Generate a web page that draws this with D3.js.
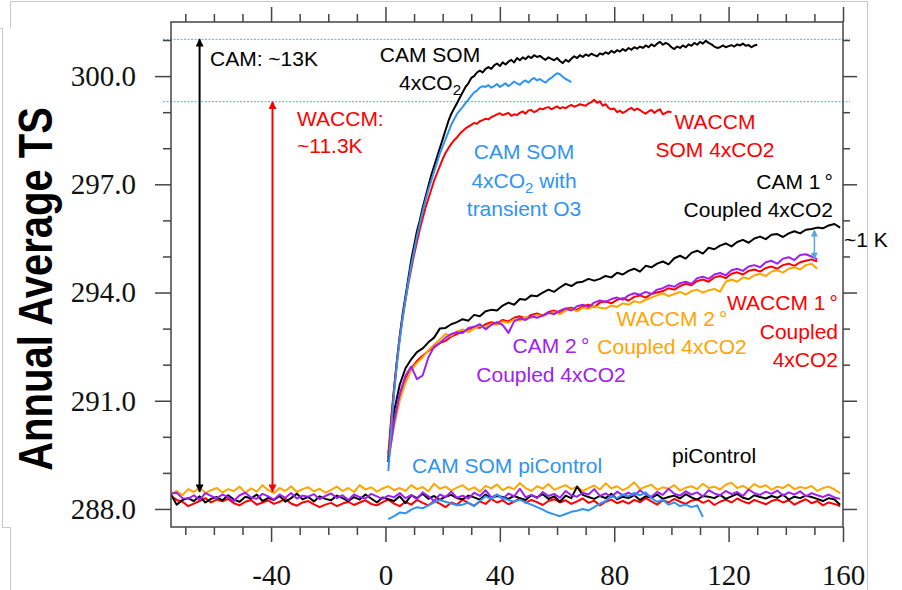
<!DOCTYPE html>
<html>
<head>
<meta charset="utf-8">
<script src="https://cdn.jsdelivr.net/npm/d3@7"></script>
<style>
  html, body { margin: 0; padding: 0; background: #fff; }
  svg { display: block; }
  text { font-family: "Liberation Sans", Arial, sans-serif; }
</style>
</head>
<body>
<svg id="chart" width="902" height="590"></svg>
<script>
// ---- axis ticks ----
const xMajorTicks = [-40, 0, 40, 80, 120, 160];
const xMinorTicks = [-70, -60, -50, -30, -20, -10, 10, 20, 30, 50, 60, 70, 90, 100, 110, 130, 140, 150];
const yMajorTicks = [288, 291, 294, 297, 300];
const yMinorTicks = [289, 290, 292, 293, 295, 296, 298, 299, 301];

// ---- reference levels (K) ----
const camTopLevel = 301.02;
const waccmTopLevel = 299.29;
const controlLevel = 288.48;

// ---- slab-ocean 4xCO2 runs, annual means from year 1 ----
const camSom4x = [
  289.3, 290.4, 291.3, 292.1, 292.8, 293.4, 293.9, 294.4, 294.9, 295.3,
  295.7, 296.0, 296.35, 296.65, 296.95, 297.25, 297.5, 297.75, 298.0, 298.25,
  298.5, 298.75, 298.95, 299.1, 299.25, 299.4, 299.55, 299.7, 299.8, 299.95,
  300.0, 300.1, 300.15, 300.1, 300.2, 300.25, 300.2, 300.3, 300.35, 300.28,
  300.38, 300.32, 300.4, 300.45, 300.38, 300.5, 300.44, 300.52, 300.47, 300.55,
  300.5, 300.58, 300.53, 300.56, 300.5, 300.45, 300.52, 300.48, 300.44, 300.5,
  300.42, 300.36, 300.45, 300.4, 300.48, 300.55, 300.5, 300.58, 300.53, 300.6,
  300.56, 300.62, 300.58, 300.55, 300.63, 300.6, 300.66, 300.62, 300.7, 300.65,
  300.72, 300.68, 300.75, 300.7, 300.78, 300.73, 300.8, 300.76, 300.82, 300.78,
  300.85, 300.8, 300.88, 300.83, 300.9, 300.95, 300.87, 300.92, 300.88, 300.8,
  300.75, 300.82, 300.78, 300.85, 300.8, 300.88, 300.84, 300.92, 300.87, 300.95,
  300.9, 300.98, 300.92, 300.88, 300.82, 300.78, 300.8, 300.85, 300.8, 300.83,
  300.86, 300.82, 300.88, 300.85, 300.9, 300.84, 300.86, 300.8, 300.85, 300.87
];
const camSom4xO3 = [
  289.05, 290.2, 291.2, 292.0, 292.7, 293.3, 293.8, 294.3, 294.75, 295.15,
  295.55, 295.9, 296.25, 296.55, 296.85, 297.1, 297.35, 297.6, 297.85, 298.05,
  298.25, 298.45, 298.65, 298.8, 298.95, 299.05, 299.15, 299.25, 299.35, 299.45,
  299.55, 299.6, 299.68, 299.72, 299.7, 299.75, 299.68, 299.72, 299.78, 299.7,
  299.75, 299.8, 299.72, 299.78, 299.85, 299.8, 299.76, 299.84, 299.88, 299.82,
  299.9, 299.95, 299.88, 299.92, 299.86, 299.82, 299.9, 299.95, 300.02, 300.08,
  300.05, 299.98, 299.92, 299.88, 299.83
];
const waccmSom4x = [
  289.5, 290.5, 291.35, 292.1, 292.75, 293.3, 293.8, 294.25, 294.65, 295.05,
  295.4, 295.75, 296.05, 296.35, 296.6, 296.85, 297.1, 297.3, 297.5, 297.7,
  297.87, 298.0, 298.12, 298.22, 298.3, 298.4, 298.48, 298.55, 298.6, 298.65,
  298.7, 298.68, 298.75, 298.78, 298.82, 298.8, 298.86, 298.9, 298.94, 298.97,
  298.92, 298.95, 298.98, 298.9, 298.94, 298.92, 298.98, 299.02, 298.96, 299.05,
  299.06, 299.0, 299.04, 299.1, 299.08, 299.12, 299.14, 299.08, 299.12, 299.16,
  299.1, 299.14, 299.11, 299.16, 299.2, 299.15, 299.18, 299.22, 299.2, 299.18,
  299.24, 299.28, 299.34, 299.26, 299.3, 299.18, 299.22, 299.12, 299.08, 299.1,
  299.0, 299.04, 298.98, 299.02, 299.08, 299.12, 299.05, 299.1, 299.06, 299.0,
  298.96, 299.02, 299.06, 298.98, 299.04, 299.08, 298.94, 298.98, 299.02, 299.0
];

// ---- fully coupled 4xCO2 runs, every second year from year 1 ----
const cam1Coupled = [
  289.4, 290.7, 291.45, 291.9, 292.15, 292.35, 292.45, 292.62, 292.75, 293.0,
  293.02, 293.12, 293.18, 293.26, 293.22, 293.38, 293.34, 293.48, 293.52, 293.5,
  293.64, 293.72, 293.66, 293.82, 293.8, 293.92, 293.9, 294.0, 294.08, 294.02,
  294.14, 294.24, 294.18, 294.28, 294.3, 294.38, 294.33, 294.38, 294.46, 294.42,
  294.55, 294.5, 294.6, 294.66, 294.58, 294.74, 294.7, 294.8, 294.86, 294.78,
  294.95, 295.02, 294.94, 295.1, 295.16, 295.08, 295.24, 295.2, 295.3, 295.36,
  295.28, 295.4, 295.46, 295.38, 295.5, 295.55, 295.48, 295.6, 295.62, 295.54,
  295.64, 295.7, 295.64, 295.74, 295.76, 295.8, 295.78, 295.86, 295.9, 295.8
];
const cam2Coupled = [
  289.3, 290.4, 291.2, 291.7, 291.95, 291.6, 291.7, 292.2, 292.5, 292.6,
  292.75, 292.85, 292.9, 292.88, 293.02, 293.05, 293.12, 292.98, 293.1, 293.18,
  293.1, 292.88, 293.2, 293.28, 293.24, 293.34, 293.3, 293.36, 293.44, 293.4,
  293.5, 293.56, 293.5, 293.62, 293.66, 293.6, 293.72, 293.78, 293.74, 293.82,
  293.86, 293.8, 293.92, 293.98, 293.94, 294.02, 293.96, 294.08, 294.12, 294.2,
  294.16, 294.26, 294.3, 294.24, 294.4, 294.44, 294.38, 294.5, 294.54, 294.48,
  294.62, 294.66, 294.6, 294.72, 294.76, 294.7, 294.84, 294.88, 294.8, 294.94,
  294.98, 294.9, 295.04, 295.06, 295.0, 294.92
];
const waccm1Coupled = [
  289.55, 290.45, 291.15, 291.6, 291.9, 292.1, 292.25, 292.38, 292.48, 292.6,
  292.66, 292.78, 292.85, 292.92, 292.98, 293.05, 293.02, 293.12, 293.18, 293.14,
  293.24, 293.2, 293.3, 293.34, 293.28, 293.38, 293.42, 293.36, 293.46, 293.5,
  293.44, 293.55, 293.58, 293.52, 293.62, 293.66, 293.6, 293.72, 293.76, 293.7,
  293.8, 293.84, 293.78, 293.88, 293.92, 293.86, 293.96, 294.0, 294.04, 294.12,
  294.08, 294.18, 294.24, 294.2, 294.32, 294.36, 294.3, 294.42, 294.46, 294.4,
  294.52, 294.56, 294.5, 294.6, 294.64, 294.58, 294.68, 294.72, 294.66, 294.76,
  294.8, 294.74, 294.84, 294.88, 294.92, 294.86
];
const waccm2Coupled = [
  289.4, 290.3, 291.0, 291.5, 291.85, 292.05, 292.2, 292.4, 292.55, 292.7,
  292.85, 292.8, 292.92, 292.98, 292.9, 293.0, 293.08, 293.02, 293.14, 293.1,
  293.2, 293.16, 293.26, 293.22, 293.32, 293.3, 293.38, 293.34, 293.42, 293.46,
  293.4, 293.5, 293.54, 293.48, 293.58, 293.55, 293.62, 293.58, 293.56, 293.64,
  293.6, 293.7, 293.66, 293.76, 293.72, 293.8, 293.86, 293.92, 293.98, 293.9,
  293.96, 294.02, 293.94, 294.04, 294.08, 294.0, 294.06, 294.1, 294.02, 294.3,
  294.36, 294.3, 294.42, 294.38, 294.48, 294.52, 294.46, 294.58, 294.62, 294.55,
  294.66, 294.7, 294.64, 294.76, 294.8, 294.66
];

// ---- pre-industrial control runs, every second year from year -75 ----
const waccm2Control = [
  288.42, 288.50, 288.38, 288.55, 288.47, 288.60, 288.44, 288.52, 288.58, 288.46,
  288.55, 288.50, 288.62, 288.45, 288.57, 288.48, 288.66, 288.52, 288.44, 288.58,
  288.50, 288.63, 288.47, 288.55, 288.60, 288.49, 288.56, 288.45, 288.53, 288.62,
  288.50, 288.58, 288.47, 288.66, 288.54, 288.60, 288.48, 288.57, 288.63, 288.52,
  288.58, 288.50, 288.66, 288.55, 288.61, 288.49, 288.70, 288.56, 288.62, 288.51,
  288.59, 288.66, 288.53, 288.60, 288.48, 288.64, 288.57, 288.68, 288.52, 288.61,
  288.55, 288.72, 288.58, 288.50, 288.63, 288.56, 288.69, 288.53, 288.60, 288.66,
  288.55, 288.62, 288.50, 288.58, 288.65, 288.54, 288.71, 288.57, 288.63, 288.52,
  288.60, 288.74, 288.55, 288.62, 288.67, 288.53, 288.60, 288.56, 288.66, 288.51,
  288.59, 288.63, 288.55, 288.70, 288.58, 288.62, 288.54, 288.67, 288.73, 288.58,
  288.64, 288.55, 288.69, 288.60, 288.66, 288.53, 288.62, 288.58, 288.68, 288.55,
  288.61, 288.57, 288.64, 288.50, 288.58, 288.62, 288.54, 288.44
];
const waccm1Control = [
  288.36, 288.25, 288.20, 288.08, 288.15, 288.22, 288.30, 288.18, 288.26, 288.21,
  288.28, 288.16, 288.10, 288.20, 288.25, 288.12, 288.18, 288.24, 288.14, 288.20,
  288.28, 288.15, 288.09, 288.18, 288.22, 288.13, 288.05, 288.12, 288.17, 288.08,
  288.15, 288.20, 288.11, 288.18, 288.24, 288.14, 288.10, 288.19, 288.26, 288.15,
  288.08, 288.20, 288.12, 288.25, 288.17, 288.10, 288.22, 288.15, 288.05, 288.18,
  288.12, 288.26, 288.16, 288.09, 288.21, 288.14, 288.28, 288.18, 288.24, 288.13,
  288.20, 288.30, 288.17, 288.25, 288.19, 288.11, 288.22, 288.27, 288.18, 288.24,
  288.14, 288.21, 288.29, 288.17, 288.23, 288.10, 288.20, 288.26, 288.16, 288.22,
  288.15, 288.25, 288.19, 288.30, 288.21, 288.12, 288.24, 288.18, 288.28, 288.20,
  288.14, 288.23, 288.27, 288.17, 288.24, 288.11, 288.20, 288.26, 288.18, 288.29,
  288.21, 288.15, 288.25, 288.19, 288.13, 288.22, 288.26, 288.18, 288.24, 288.12,
  288.20, 288.27, 288.16, 288.22, 288.10, 288.18, 288.14, 288.08
];
const cam1Control = [
  288.40, 288.12, 288.25, 288.30, 288.22, 288.35, 288.18, 288.28, 288.33, 288.24,
  288.38, 288.26, 288.20, 288.34, 288.29, 288.40, 288.22, 288.31, 288.25, 288.36,
  288.20, 288.30, 288.42, 288.27, 288.33, 288.21, 288.35, 288.28, 288.24, 288.37,
  288.30, 288.22, 288.33, 288.26, 288.40, 288.29, 288.18, 288.32, 288.27, 288.22,
  288.35, 288.16, 288.38, 288.30, 288.42, 288.28, 288.36, 288.25, 288.34, 288.39,
  288.30, 288.27, 288.37, 288.32, 288.26, 288.40, 288.31, 288.36, 288.33, 288.28,
  288.36, 288.30, 288.25, 288.38, 288.32, 288.41, 288.28, 288.35, 288.20, 288.37,
  288.30, 288.62, 288.39, 288.33, 288.28, 288.36, 288.30, 288.42, 288.27, 288.34,
  288.30, 288.38, 288.25, 288.35, 288.31, 288.40, 288.28, 288.33, 288.37, 288.29,
  288.41, 288.32, 288.26, 288.36, 288.34, 288.30, 288.39, 288.28, 288.35, 288.42,
  288.31, 288.27, 288.38, 288.33, 288.29, 288.36, 288.31, 288.40, 288.26, 288.34,
  288.30, 288.37, 288.33, 288.28, 288.22, 288.30, 288.26, 288.12
];
const cam2Control = [
  288.42, 288.45, 288.30, 288.28, 288.38, 288.25, 288.44, 288.36, 288.30, 288.40,
  288.33, 288.22, 288.38, 288.45, 288.32, 288.28, 288.42, 288.35, 288.26, 288.40,
  288.31, 288.44, 288.29, 288.37, 288.34, 288.41, 288.27, 288.36, 288.43, 288.30,
  288.38, 288.25, 288.40, 288.33, 288.29, 288.42, 288.35, 288.28, 288.37, 288.32,
  288.44, 288.30, 288.38, 288.27, 288.46, 288.35, 288.22, 288.40, 288.33, 288.48,
  288.31, 288.37, 288.29, 288.45, 288.36, 288.52, 288.32, 288.40, 288.28, 288.43,
  288.35, 288.56, 288.33, 288.39, 288.30, 288.47, 288.36, 288.42, 288.31, 288.50,
  288.38, 288.34, 288.45, 288.40, 288.55, 288.36, 288.43, 288.33, 288.48, 288.38,
  288.45, 288.36, 288.52, 288.40, 288.34, 288.47, 288.39, 288.56, 288.42, 288.37,
  288.49, 288.40, 288.46, 288.35, 288.52, 288.43, 288.38, 288.50, 288.41, 288.47,
  288.36, 288.54, 288.44, 288.39, 288.48, 288.42, 288.51, 288.37, 288.46, 288.40,
  288.49, 288.35, 288.44, 288.38, 288.33, 288.40, 288.32, 288.28
];
// slab-ocean control, every second year from year 1
const camSomControl = [
  287.72, 287.80, 287.90, 287.88, 287.98, 288.05, 288.02, 288.10, 288.18, 288.25,
  288.20, 288.15, 288.10, 288.12, 288.18, 288.08, 288.22, 288.35, 288.28, 288.40,
  288.30, 288.25, 288.20, 288.26, 288.18, 288.12, 288.05, 287.98, 287.90, 287.85,
  287.80, 287.86, 287.92, 287.95, 288.00, 287.96, 288.05, 288.15, 288.22, 288.35,
  288.30, 288.40, 288.35, 288.45, 288.38, 288.46, 288.30, 288.20, 288.25, 288.12,
  288.18, 288.08, 288.12, 288.05, 288.10, 287.78
];

// ---- colours ----
const C = {
  black: "#000000",
  blue: "#2f93f5",
  red: "#ff0000",
  orange: "#ffa500",
  purple: "#a020f0",
  guide: "#5da2e6",
  axis: "#444444",
  frame: "#c8c8c8"
};

const svg = d3.select("#chart");
const plot = { left: 171, right: 843, top: 22, bottom: 527 };

const x = d3.scaleLinear().domain([-75, 160]).range([plot.left, plot.right]);
const y = d3.scaleLinear().domain([287.5, 301.5]).range([plot.bottom, plot.top]);

// series -> points
const toPoints = (vals, start, step) => vals.map((v, i) => [start + i * step, v]);

// thin page frame
const frame = svg.append("g").attr("fill", "none").attr("stroke", C.frame).attr("stroke-width", 1);
frame.append("path").attr("d", "M10.5,28.5 V1.5 H867.5 V590");
frame.append("path").attr("d", "M0,28.5 H2.5 V527.5 H10.5 V590");

// clip for data
svg.append("defs").append("clipPath").attr("id", "plotclip")
  .append("rect").attr("x", plot.left).attr("y", plot.top)
  .attr("width", plot.right - plot.left).attr("height", plot.bottom - plot.top);

// dashed guide lines at equilibrium levels
[camTopLevel, waccmTopLevel].forEach(lv => {
  svg.append("line")
    .attr("x1", plot.left - 8).attr("x2", plot.right + 7)
    .attr("y1", y(lv)).attr("y2", y(lv))
    .attr("stroke", C.guide).attr("stroke-width", 1)
    .attr("stroke-dasharray", "2,1.5");
});

const line = d3.line().x(d => x(d[0])).y(d => y(d[1]));
const data = svg.append("g").attr("clip-path", "url(#plotclip)")
  .attr("fill", "none").attr("stroke-width", 2).attr("stroke-linejoin", "round");

const series = [
  [waccm2Control, -75, 2, C.orange],
  [waccm1Control, -75, 2, C.red],
  [cam1Control, -75, 2, C.black],
  [cam2Control, -75, 2, C.purple],
  [camSomControl, 1, 2, C.blue],
  [cam1Coupled, 1, 2, C.black],
  [waccm1Coupled, 1, 2, C.red],
  [waccm2Coupled, 1, 2, C.orange],
  [cam2Coupled, 1, 2, C.purple],
  [camSom4x, 1, 1, C.black],
  [waccmSom4x, 1, 1, C.red],
  [camSom4xO3, 1, 1, C.blue]
];
series.forEach(([vals, start, step, col]) => {
  data.append("path").attr("d", line(toPoints(vals, start, step))).attr("stroke", col);
});

// plot box
svg.append("rect")
  .attr("x", plot.left).attr("y", plot.top)
  .attr("width", plot.right - plot.left).attr("height", plot.bottom - plot.top)
  .attr("fill", "none").attr("stroke", C.axis).attr("stroke-width", 1.5);

// axes
function styleAxis(g) {
  g.select(".domain").remove();
  g.selectAll(".tick line").attr("stroke", C.axis).attr("stroke-width", 1.5);
  g.selectAll(".tick text").attr("fill", "#111")
    .style("font-family", "'Liberation Serif', 'Times New Roman', serif").style("font-size", "29px");
}
const fmtX = d => String(d).replace("\u2212", "-");
const fmtY = d3.format(".1f");

// bottom
svg.append("g").attr("transform", `translate(0,${plot.bottom})`)
  .call(d3.axisBottom(x).tickValues(xMajorTicks).tickSize(15).tickPadding(22).tickFormat(fmtX))
  .call(styleAxis);
svg.append("g").attr("transform", `translate(0,${plot.bottom})`)
  .call(d3.axisBottom(x).tickValues(xMinorTicks).tickSize(8).tickFormat(""))
  .call(styleAxis);
// top
svg.append("g").attr("transform", `translate(0,${plot.top})`)
  .call(d3.axisTop(x).tickValues(xMajorTicks).tickSize(15).tickFormat(""))
  .call(styleAxis);
svg.append("g").attr("transform", `translate(0,${plot.top})`)
  .call(d3.axisTop(x).tickValues(xMinorTicks).tickSize(8).tickFormat(""))
  .call(styleAxis);
// left
svg.append("g").attr("transform", `translate(${plot.left},0)`)
  .call(d3.axisLeft(y).tickValues(yMajorTicks).tickSize(16).tickPadding(19).tickFormat(fmtY))
  .call(styleAxis);
svg.append("g").attr("transform", `translate(${plot.left},0)`)
  .call(d3.axisLeft(y).tickValues(yMinorTicks).tickSize(8).tickFormat(""))
  .call(styleAxis);
// right
svg.append("g").attr("transform", `translate(${plot.right},0)`)
  .call(d3.axisRight(y).tickValues(yMajorTicks).tickSize(14).tickFormat(""))
  .call(styleAxis);
svg.append("g").attr("transform", `translate(${plot.right},0)`)
  .call(d3.axisRight(y).tickValues(yMinorTicks).tickSize(7).tickFormat(""))
  .call(styleAxis);

// y axis title
svg.append("text")
  .attr("transform", `translate(52,${y(294.1)}) rotate(-90) scale(1,1.18)`)
  .attr("text-anchor", "middle")
  .style("font-family", "'Liberation Sans', Arial, sans-serif")
  .style("font-weight", "bold").style("font-size", "40px")
  .attr("fill", "#000")
  .text("Annual Average TS");

// double-headed arrows
const defs = svg.select("defs");
function marker(id, col, w, h) {
  defs.append("marker").attr("id", id)
    .attr("viewBox", "0 0 10 10").attr("refX", 9).attr("refY", 5)
    .attr("markerWidth", w).attr("markerHeight", h).attr("markerUnits", "userSpaceOnUse")
    .attr("orient", "auto-start-reverse")
    .append("path").attr("d", "M0,0 L10,5 L0,10 Z").attr("fill", col);
}
marker("ahBlack", C.black, 9, 8);
marker("ahRed", C.red, 9, 8);
marker("ahBlue", "#5aa5e0", 8, 7);
function arrow(xv, y0, y1, col, id, sw) {
  svg.append("line")
    .attr("x1", x(xv)).attr("x2", x(xv))
    .attr("y1", y(y0)).attr("y2", y(y1))
    .attr("stroke", col).attr("stroke-width", sw)
    .attr("marker-start", `url(#${id})`).attr("marker-end", `url(#${id})`);
}
arrow(-65, controlLevel, camTopLevel, C.black, "ahBlack", 2);
arrow(-39.5, controlLevel, waccmTopLevel, C.red, "ahRed", 2);
arrow(150, 294.93, 295.73, "#5aa5e0", "ahBlue", 1.5);

// annotations
function label(lines, px, baselines, col, anchor) {
  lines.forEach((ln, i) => {
    const t = svg.append("text")
      .attr("x", px).attr("y", baselines[i])
      .attr("text-anchor", anchor || "start")
      .attr("fill", col).style("font-size", "21px");
    if (Array.isArray(ln)) {
      t.append("tspan").text(ln[0]);
      t.append("tspan").attr("font-size", "15px").attr("dy", 5).text(ln[1]);
      if (ln[2]) t.append("tspan").attr("dy", -5).text(ln[2]);
    } else {
      t.text(ln);
    }
  });
}
label(["CAM: ~13K"], 210, [66], C.black);
label(["WACCM:", "~11.3K"], 297, [126, 153], C.red);
label(["CAM SOM", ["4xCO", "2"]], 430, [62, 90], C.black, "middle");
label(["CAM SOM", ["4xCO", "2", " with"], "transient O3"], 524, [159, 188, 216], C.blue, "middle");
label(["WACCM", "SOM 4xCO2"], 715, [129, 157], C.red, "middle");
label(["CAM 1\u2009°", "Coupled 4xCO2"], 833, [189, 217], C.black, "end");
label(["~1 K"], 844, [247], C.black);
label(["WACCM 1\u2009°", "Coupled", "4xCO2"], 838, [310, 339, 367], C.red, "end");
label(["WACCM 2\u2009°", "Coupled 4xCO2"], 672, [326, 354], C.orange, "middle");
label(["CAM 2\u2009°", "Coupled 4xCO2"], 551, [353, 382], C.purple, "middle");
label(["CAM SOM piControl"], 412, [473], C.blue);
label(["piControl"], 672, [463], C.black);
</script>
</body>
</html>
